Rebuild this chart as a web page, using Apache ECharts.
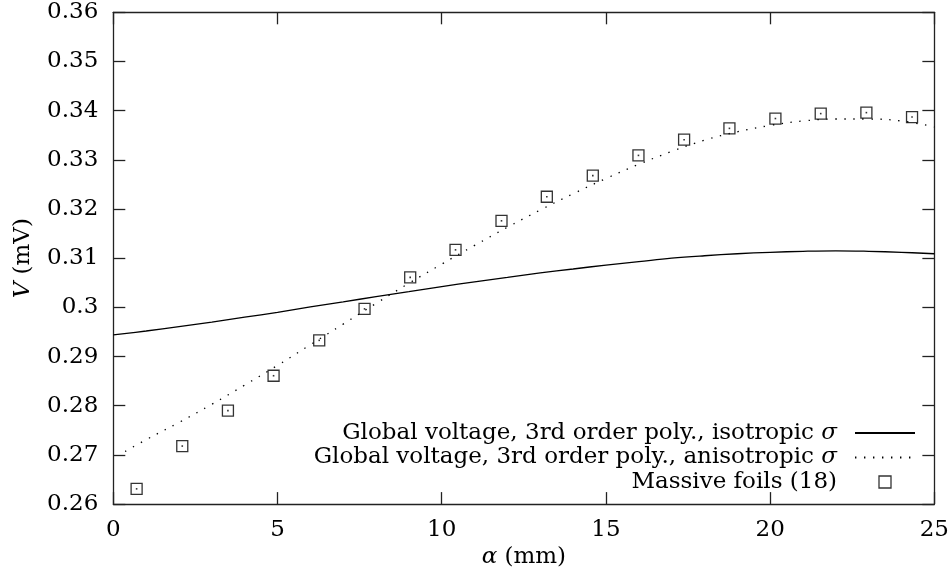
<!DOCTYPE html>
<html>
<head>
<meta charset="utf-8">
<script src="https://cdn.jsdelivr.net/npm/echarts@6/dist/echarts.min.js"></script>
<style>
  html, body { margin: 0; padding: 0; background: #ffffff; }
  #chart { width: 952px; height: 574px; }
</style>
</head>
<body>
<div id="chart"></div>
<script>
// Measured foil voltages V (mV) against position alpha (mm)
const alphaFoils = [0.71, 2.10, 3.49, 4.88, 6.27, 7.65, 9.04, 10.42, 11.82, 13.20, 14.60, 15.99, 17.38, 18.76, 20.16, 21.54, 22.93, 24.32];
const voltFoils  = [0.2631, 0.2718, 0.2790, 0.2861, 0.2933, 0.2997, 0.3061, 0.3117, 0.3176, 0.3225, 0.3268, 0.3309, 0.3341, 0.3364, 0.3384, 0.3394, 0.3396, 0.3387];

// Global voltage fit, 3rd order polynomial, isotropic conductivity
const alphaIso = [0, 1, 2, 3, 4, 5, 6, 7, 8, 9, 10, 11, 12, 13, 14, 15, 16, 17, 18, 19, 20, 21, 22, 23, 24, 25];
const voltIso  = [0.2944, 0.2952, 0.2961, 0.2970, 0.2980, 0.2990, 0.3001, 0.3011, 0.3022, 0.3032, 0.3042, 0.3052, 0.3061,
                  0.3070, 0.3078, 0.3086, 0.3093, 0.3100, 0.3105, 0.3109, 0.3112, 0.3114, 0.3115, 0.3114, 0.3112, 0.3109];

// Global voltage fit, 3rd order polynomial, anisotropic conductivity
const alphaAniso = [0.36, 1, 2, 3, 4, 5, 6, 7, 8, 9, 10, 11, 12, 13, 14, 15, 16, 17, 18, 19, 20, 21, 22, 23, 24, 25];
const voltAniso  = [0.2707, 0.2731, 0.2766, 0.2803, 0.2842, 0.2882, 0.2924, 0.2966, 0.3008, 0.3049, 0.3088, 0.3126, 0.3163,
                    0.3198, 0.3231, 0.3262, 0.3291, 0.3317, 0.3340, 0.3357, 0.3370, 0.3379, 0.3383, 0.3383, 0.3379, 0.3367];

// Axis ranges and ticks
const xTicks = { min: 0, max: 25, step: 5 };
const yTicks = { min: 0.26, max: 0.36, step: 0.01 };

const seriesNames = [
  'Global voltage, 3rd order poly., isotropic σ',
  'Global voltage, 3rd order poly., anisotropic σ',
  'Massive foils (18)'
];

const pairs = (xs, ys) => xs.map((x, i) => [x, ys[i]]);

const FONT = '"DejaVu Serif", "Liberation Serif", serif';
const INK = '#000000';
const FRAME = '#222222';
const FS = 23;

const italic = () => ({ fontFamily: FONT, fontStyle: 'italic', fontSize: FS, color: INK });

// Framed axis with inward ticks; extra settings are merged on top
function frameAxis(extra) {
  return Object.assign({
    type: 'value',
    axisLine: { show: true, onZero: false, lineStyle: { color: FRAME, width: 1.3 } },
    axisTick: { show: true, inside: true, length: 12, lineStyle: { color: FRAME, width: 1.3 } },
    splitLine: { show: false },
    axisLabel: { show: false }
  }, extra);
}

const chart = echarts.init(document.getElementById('chart'), null, { renderer: 'canvas' });

chart.setOption({
  backgroundColor: '#ffffff',
  animation: false,
  grid: { left: 113.3, right: 12.7, top: 12.3, bottom: 68.5, containLabel: false },
  xAxis: [
    frameAxis({
      position: 'bottom',
      min: xTicks.min, max: xTicks.max, interval: xTicks.step,
      axisLabel: { show: true, margin: 14, fontFamily: FONT, fontSize: FS, color: INK },
      name: '{i|α} (mm)',
      nameLocation: 'middle',
      nameGap: 38,
      nameTextStyle: { fontFamily: FONT, fontSize: FS, color: INK, rich: { i: italic() } }
    }),
    frameAxis({
      position: 'top',
      min: xTicks.min, max: xTicks.max, interval: xTicks.step
    })
  ],
  yAxis: [
    frameAxis({
      position: 'left',
      min: yTicks.min, max: yTicks.max, interval: yTicks.step,
      axisLabel: {
        show: true, margin: 15, fontFamily: FONT, fontSize: FS, color: INK,
        formatter: v => String(parseFloat(v.toFixed(2)))
      },
      name: '{i|V} (mV)',
      nameLocation: 'middle',
      nameGap: 79,
      nameTextStyle: { fontFamily: FONT, fontSize: FS, color: INK, rich: { i: italic() } }
    }),
    frameAxis({
      position: 'right',
      min: yTicks.min, max: yTicks.max, interval: yTicks.step
    })
  ],
  legend: {
    orient: 'vertical',
    align: 'right',
    right: 36,
    top: 421,
    padding: 0,
    itemGap: 0.5,
    itemWidth: 60,
    itemHeight: 12,
    data: [
      { name: seriesNames[0], itemStyle: { opacity: 0 } },
      { name: seriesNames[1], itemStyle: { opacity: 0 } },
      {
        name: seriesNames[2],
        icon: 'path://M0,0H10V10H0Z',
        itemStyle: { color: 'rgba(0,0,0,0)', borderColor: INK, borderWidth: 1.3 }
      }
    ],
    formatter: name => name.replace('σ', '{i|σ}'),
    textStyle: {
      fontFamily: FONT, fontSize: FS, color: INK, lineHeight: 24,
      padding: [0, 13, 0, 0],
      rich: { i: Object.assign(italic(), { lineHeight: 24 }) }
    }
  },
  series: [
    {
      name: seriesNames[0],
      type: 'line',
      xAxisIndex: 0, yAxisIndex: 0,
      data: pairs(alphaIso, voltIso),
      smooth: 0.4,
      symbol: 'none',
      lineStyle: { color: INK, width: 1.3, type: 'solid' },
      itemStyle: { color: INK },
      z: 3
    },
    {
      name: seriesNames[1],
      type: 'line',
      xAxisIndex: 0, yAxisIndex: 0,
      data: pairs(alphaAniso, voltAniso),
      smooth: 0.4,
      symbol: 'none',
      lineStyle: { color: INK, width: 1.3, type: [1.4, 7.6] },
      itemStyle: { color: INK },
      z: 3
    },
    {
      name: seriesNames[2],
      type: 'scatter',
      xAxisIndex: 0, yAxisIndex: 0,
      data: pairs(alphaFoils, voltFoils),
      symbol: 'rect',
      symbolSize: 11,
      itemStyle: { color: 'rgba(0,0,0,0)', borderColor: INK, borderWidth: 1.3 },
      z: 4
    },
    {
      // centre dot of each foil marker
      name: 'foil centres',
      type: 'scatter',
      xAxisIndex: 0, yAxisIndex: 0,
      data: pairs(alphaFoils, voltFoils),
      symbol: 'rect',
      symbolSize: 1.6,
      itemStyle: { color: INK },
      silent: true,
      z: 5
    }
  ]
});
</script>
</body>
</html>
